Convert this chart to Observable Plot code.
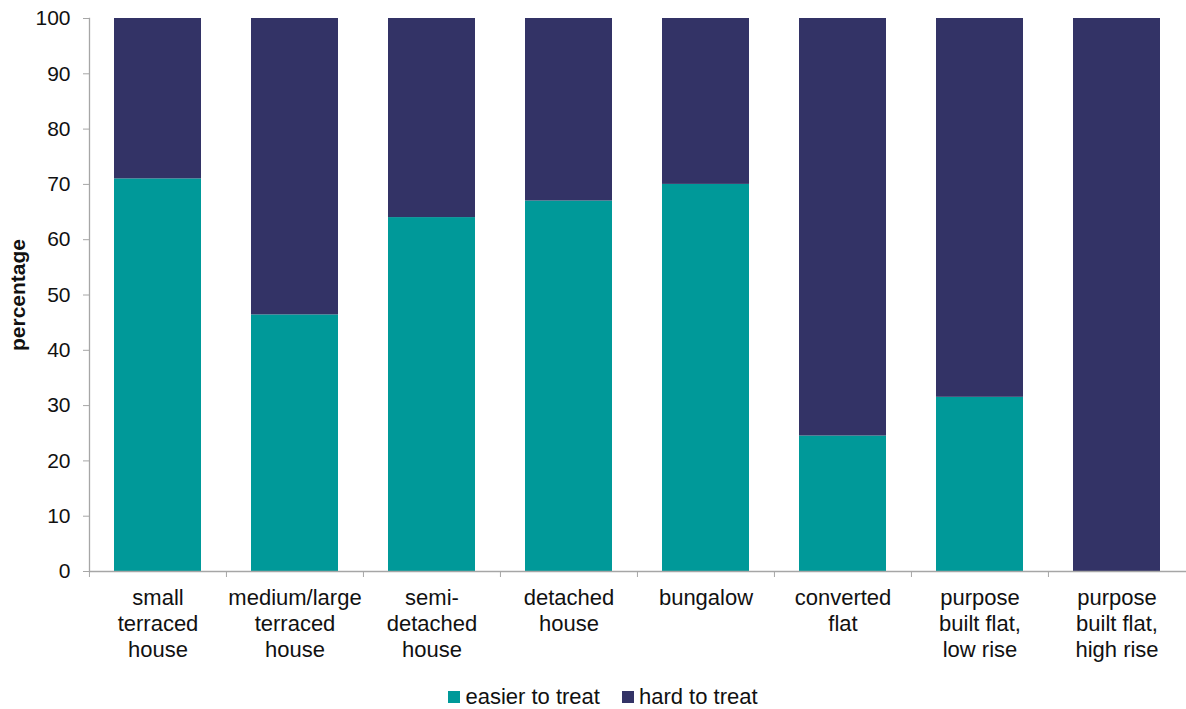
<!DOCTYPE html>
<html>
<head>
<meta charset="utf-8">
<script src="https://cdn.jsdelivr.net/npm/d3@7"></script>
<script src="https://cdn.jsdelivr.net/npm/@observablehq/plot@0.6"></script>
<style>
  body { margin: 0; background: #fff; font-family: "Liberation Sans", Arial, sans-serif; }
  #chart svg { display: block; }
  .legend { display: flex; justify-content: center; align-items: center; gap: 22px; font-size: 22px; color: #111; margin-top: 12px; padding-left: 20px; line-height: 26px; }
  .legend span.item { display: flex; align-items: center; }
  .legend span.sw { display: inline-block; width: 12px; height: 12px; margin-right: 5px; }
</style>
</head>
<body>
<div id="chart"></div>
<div class="legend" id="legend"></div>
<script>
const categories = ["small terraced house", "medium/large terraced house", "semi-detached house", "detached house", "bungalow", "converted flat", "purpose built flat, low rise", "purpose built flat, high rise"];
const tickLabels = ["small\nterraced\nhouse", "medium/large\nterraced\nhouse", "semi-\ndetached\nhouse", "detached\nhouse", "bungalow", "converted\nflat", "purpose\nbuilt flat,\nlow rise", "purpose\nbuilt flat,\nhigh rise"];
const seriesNames = ["easier to treat", "hard to treat"];
const easier = [71, 46.4, 64, 67, 70, 24.5, 31.5, 0];
const hard = [29, 53.6, 36, 33, 30, 75.5, 68.5, 100];
const colors = ["#009999", "#333366"];

const data = [];
categories.forEach((c, i) => {
  data.push({category: c, series: seriesNames[0], value: easier[i]});
  data.push({category: c, series: seriesNames[1], value: hard[i]});
});
const labelOf = new Map(categories.map((c, i) => [c, tickLabels[i]]));

const width = 1186;
const step = (width - 89) / categories.length;

const chart = Plot.plot({
  width,
  height: 672,
  marginLeft: 89,
  marginRight: 0,
  marginTop: 18,
  marginBottom: 101,
  style: {fontFamily: "'Liberation Sans', Arial, sans-serif", fontSize: "21px", color: "#111", background: "#fff"},
  x: {domain: categories, paddingInner: 0.364, paddingOuter: 0.182, label: null},
  y: {domain: [0, 100], label: null},
  color: {domain: seriesNames, range: colors},
  marks: [
    Plot.barY(data, {x: "category", y: "value", fill: "series", order: seriesNames}),
    Plot.frame({anchor: "left", stroke: "#a6a6a6", strokeWidth: 1.3}),
    Plot.ruleY([0], {stroke: "#a6a6a6", strokeWidth: 1.3}),
    Plot.axisY({ticks: d3.range(0, 101, 10), tickSize: 6, tickPadding: 13, stroke: "#a6a6a6", fontSize: 21, fill: "#111", label: null}),
    Plot.axisX({tickSize: 0, tickPadding: 15, tickFormat: d => labelOf.get(d), lineHeight: 1.18, fontSize: 22, fill: "#111", label: null}),
    Plot.ruleX(categories, {x: d => d, y1: 0, y2: 0, insetBottom: -6, dx: -step / 2, stroke: "#a6a6a6"}),
    Plot.text(["percentage"], {frameAnchor: "left", textAnchor: "middle", dx: -71, rotate: -90, fontWeight: "bold", fontSize: 21, fill: "#111", text: d => d})
  ]
});

document.getElementById("chart").appendChild(chart);

const legend = document.getElementById("legend");
seriesNames.forEach((s, i) => {
  const item = document.createElement("span");
  item.className = "item";
  const sw = document.createElement("span");
  sw.className = "sw";
  sw.style.background = colors[i];
  item.appendChild(sw);
  item.appendChild(document.createTextNode(s));
  legend.appendChild(item);
});
</script>
</body>
</html>
